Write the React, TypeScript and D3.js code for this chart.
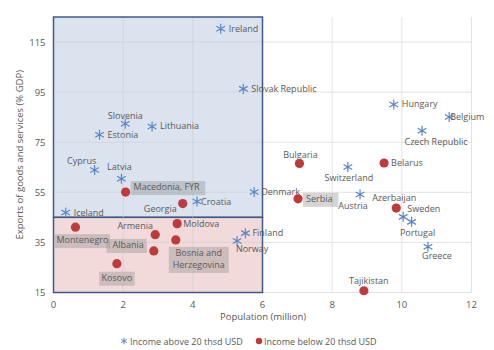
import * as d3 from 'd3';

// population (million), exports (% GDP)
const HIGH_NAMES = ['Ireland', 'Slovak Republic', 'Slovenia', 'Lithuania', 'Estonia', 'Cyprus', 'Latvia', 'Croatia', 'Iceland', 'Finland', 'Norway', 'Denmark', 'Austria', 'Sweden', 'Portugal', 'Greece', 'Hungary', 'Belgium', 'Czech Republic', 'Switzerland'];
const HIGH_POP = [4.8, 5.45, 2.06, 2.83, 1.32, 1.18, 1.95, 4.12, 0.35, 5.51, 5.27, 5.76, 8.8, 10.04, 10.28, 10.75, 9.77, 11.36, 10.58, 8.45];
const HIGH_EXP = [120.3, 96.3, 82.4, 81.3, 78, 63.9, 60.4, 51.3, 46.9, 38.7, 35.6, 55.1, 54.1, 45.2, 43.2, 33.3, 90.1, 85.1, 79.6, 65.1];

const LOW_NAMES = ['Macedonia, FYR', 'Georgia', 'Montenegro', 'Armenia', 'Albania', 'Moldova', 'Bosnia and|Herzegovina', 'Kosovo', 'Serbia', 'Azerbaijan', 'Tajikistan', 'Bulgaria', 'Belarus'];
const LOW_POP = [2.07, 3.71, 0.63, 2.92, 2.88, 3.55, 3.51, 1.82, 7.02, 9.84, 8.91, 7.06, 9.49];
const LOW_EXP = [55.1, 50.5, 41.1, 38.1, 31.6, 42.5, 36, 26.5, 52.4, 48.7, 15.7, 66.5, 66.7];

const X_TICKS = [0, 2, 4, 6, 8, 10, 12];
const Y_TICKS = [15, 35, 55, 75, 95, 115];

// label placement: [dx, dy, anchor, boxed]
const LABEL_POS: Record<string, [number, number, string, boolean]> = {
  'Ireland': [8, 3, 'start', false],
  'Slovak Republic': [8, 3, 'start', false],
  'Slovenia': [0, -5, 'middle', false],
  'Lithuania': [8, 3, 'start', false],
  'Estonia': [8, 3, 'start', false],
  'Cyprus': [-13, -6, 'middle', false],
  'Latvia': [-2, -9, 'middle', false],
  'Croatia': [4, 3, 'start', false],
  'Iceland': [8, 3, 'start', false],
  'Finland': [7, 3, 'start', false],
  'Norway': [15, 11, 'middle', false],
  'Denmark': [7, 3, 'start', false],
  'Austria': [-7, 14, 'middle', false],
  'Sweden': [4, -5, 'start', false],
  'Portugal': [6, 14, 'middle', false],
  'Greece': [9, 12, 'middle', false],
  'Hungary': [8, 3, 'start', false],
  'Belgium': [1, 3, 'start', false],
  'Czech Republic': [14, 14, 'middle', false],
  'Switzerland': [1, 14, 'middle', false],
  'Macedonia, FYR': [8, -2, 'start', true],
  'Georgia': [-6, 8, 'end', false],
  'Montenegro': [7, 16, 'middle', true],
  'Armenia': [-20, -6, 'middle', false],
  'Albania': [-10, -3, 'end', true],
  'Moldova': [6, 3, 'start', false],
  'Bosnia and|Herzegovina': [23, 16, 'middle', true],
  'Kosovo': [0, 17, 'middle', true],
  'Serbia': [8, 3, 'start', true],
  'Azerbaijan': [-2, -7, 'middle', false],
  'Tajikistan': [5, -7, 'middle', false],
  'Bulgaria': [1, -6, 'middle', false],
  'Belarus': [7, 3, 'start', false],
};

const W = 494;
const H = 350;
const M = { left: 53.5, right: 22.5, top: 17, bottom: 57.5 };
const FONT = '"Open Sans", "Noto Sans", sans-serif';
const TXT = '#595959';
const BLUE = '#5b86c8';
const RED = '#c0393b';

const x = d3.scaleLinear().domain([0, 12]).range([M.left, W - M.right]);
const y = d3.scaleLinear().domain([15, 125]).range([H - M.bottom, M.top]);
const star = d3.symbol(d3.symbolAsterisk, 70)();

function Label({ px, py, name }: { px: number; py: number; name: string }) {
  const [dx, dy, anchor, boxed] = LABEL_POS[name];
  const lines = name.split('|');
  const lh = 12;
  const longest = d3.max(lines, (l) => l.length) || 0;
  const bw = longest * 4.9 + 6;
  const bx = anchor === 'start' ? px + dx - 3 : anchor === 'end' ? px + dx - bw + 3 : px + dx - bw / 2;
  return (
    <g>
      {boxed && (
        <rect x={bx} y={py + dy - 9} width={bw} height={lines.length * lh + 2} fill="#888" opacity={0.35} />
      )}
      {lines.map((l, i) => (
        <text key={i} x={px + dx} y={py + dy + i * lh} textAnchor={anchor} fontSize={9} fill={TXT} fontFamily={FONT}>
          {l}
        </text>
      ))}
    </g>
  );
}

export default function App() {
  const x0 = x(0);
  const x6 = x(6);
  const yTop = y(125);
  const y45 = y(45);
  const y15 = y(15);
  return (
    <svg width={W} height={H} style={{ position: 'absolute', left: 0, top: 0, background: '#fff' }}>
      {/* grid */}
      {X_TICKS.slice(1).map((t) => (
        <line key={'gx' + t} x1={x(t)} x2={x(t)} y1={yTop} y2={y15} stroke="#e3e3e3" strokeWidth={1} />
      ))}
      {Y_TICKS.map((t) => (
        <line key={'gy' + t} x1={x0} x2={x(12)} y1={y(t)} y2={y(t)} stroke="#e3e3e3" strokeWidth={1} />
      ))}
      {/* quadrant boxes */}
      <rect x={x0} y={yTop} width={x6 - x0} height={y45 - yTop} fill="#dbe3ef" stroke="#3f5a86" strokeWidth={1.5} />
      <rect x={x0} y={y45} width={x6 - x0} height={y15 - y45} fill="#f1dad9" stroke="#3f5a86" strokeWidth={1.5} />
      {X_TICKS.slice(1, 3).map((t) => (
        <line key={'gi' + t} x1={x(t)} x2={x(t)} y1={yTop + 1} y2={y15 - 1} stroke="#c9ccd2" strokeOpacity={0.5} strokeWidth={1} />
      ))}
      {Y_TICKS.slice(1).map((t) => (
        <line key={'gj' + t} x1={x0 + 1} x2={x6 - 1} y1={y(t)} y2={y(t)} stroke="#c9ccd2" strokeOpacity={0.5} strokeWidth={1} />
      ))}
      {/* tick labels */}
      {X_TICKS.map((t) => (
        <text key={'tx' + t} x={x(t)} y={y15 + 15} textAnchor="middle" fontSize={9.5} fill={TXT} fontFamily={FONT}>
          {t}
        </text>
      ))}
      {Y_TICKS.map((t) => (
        <text key={'ty' + t} x={x0 - 8} y={y(t) + 3.5} textAnchor="end" fontSize={9.5} fill={TXT} fontFamily={FONT}>
          {t}
        </text>
      ))}
      {/* axis titles */}
      <text x={263} y={320} textAnchor="middle" fontSize={9.5} fill={TXT} fontFamily={FONT}>
        Population (million)
      </text>
      <text transform={`translate(23,${(yTop + y15) / 2}) rotate(-90)`} textAnchor="middle" fontSize={9.5} fill={TXT} fontFamily={FONT}>
        Exports of goods and services (% GDP)
      </text>
      {/* points */}
      {HIGH_NAMES.map((n, i) => (
        <g key={n}>
          <path d={star} transform={`translate(${x(HIGH_POP[i])},${y(HIGH_EXP[i])})`} fill="none" stroke={BLUE} strokeWidth={1.2} />
          <Label px={x(HIGH_POP[i])} py={y(HIGH_EXP[i])} name={n} />
        </g>
      ))}
      {LOW_NAMES.map((n, i) => (
        <g key={n}>
          <circle cx={x(LOW_POP[i])} cy={y(LOW_EXP[i])} r={4.6} fill={RED} />
          <Label px={x(LOW_POP[i])} py={y(LOW_EXP[i])} name={n} />
        </g>
      ))}
      {/* legend */}
      <path d={d3.symbol(d3.symbolAsterisk, 30)()} transform="translate(124,341)" fill="none" stroke={BLUE} strokeWidth={1} />
      <text x={130} y={344.5} fontSize={9} fill={TXT} fontFamily={FONT}>
        Income above 20 thsd USD
      </text>
      <circle cx={259} cy={341} r={3.2} fill={RED} />
      <text x={264} y={344.5} fontSize={9} fill={TXT} fontFamily={FONT}>
        Income below 20 thsd USD
      </text>
    </svg>
  );
}
